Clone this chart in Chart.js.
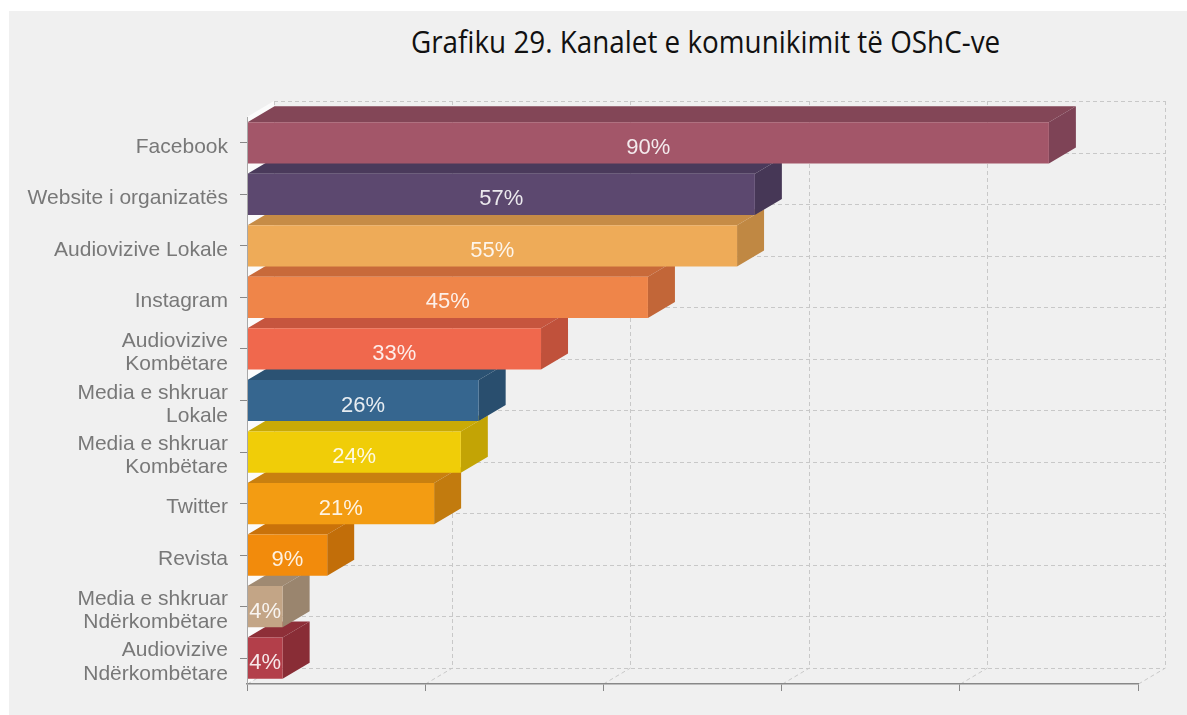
<!DOCTYPE html>
<html><head><meta charset="utf-8">
<script src="https://cdn.jsdelivr.net/npm/chart.js@4/dist/chart.umd.min.js"></script>
<style>
html,body{margin:0;padding:0;background:#fff;width:1187px;height:715px;overflow:hidden;}
#bg{position:absolute;left:9px;top:11px;width:1178px;height:704px;background:#f0f0f0;}
#title{position:absolute;top:22px;left:411px;white-space:nowrap;font-family:'Open Sans',sans-serif;font-size:31px;line-height:38px;color:#111;transform-origin:0 0;}
#wrap{position:absolute;left:0;top:0;width:1187px;height:715px;}
</style></head><body>
<div id="bg"></div>
<div id="title">Grafiku 29. Kanalet e komunikimit të OShC-ve</div>
<div id="wrap"><canvas id="c" width="1187" height="715"></canvas></div>
<script>
const categories = [
  'Facebook',
  'Website i organizatës',
  'Audiovizive Lokale',
  'Instagram',
  ['Audiovizive', 'Kombëtare'],
  ['Media e shkruar', 'Lokale'],
  ['Media e shkruar', 'Kombëtare'],
  'Twitter',
  'Revista',
  ['Media e shkruar', 'Ndërkombëtare'],
  ['Audiovizive', 'Ndërkombëtare']
];
const values = [90, 57, 55, 45, 33, 26, 24, 21, 9, 4, 4];
const valueLabels = ['90%', '57%', '55%', '45%', '33%', '26%', '24%', '21%', '9%', '4%', '4%'];
const xTickMin = 0, xTickMax = 100, xTickStep = 20;

const frontColors = ['#a35669','#5c486f','#eeab58','#ef8549','#f0684d','#36668f','#f0cd08','#f39c12','#f28b0c','#c3a586','#b33f4a'];
const topColors   = ['#834657','#4a3a5b','#c68c46','#c86a3a','#c6553e','#2b5273','#c9aa06','#c9800f','#c9720a','#a08a72','#8e2f38'];
const sideColors  = ['#7e4356','#463756','#c08843','#c26638','#c0513b','#294e6e','#c3a405','#c27b0e','#c26e09','#9a856e','#892d36'];

// title width fit
(function(){
  const el = document.getElementById('title');
  const w = el.offsetWidth;
  el.style.transform = 'scaleX(' + (589 / w) + ')';
})();

const DX = 27, DY = 16;

const threeD = {
  id: 'threeD',
  beforeDatasetsDraw(chart) {
    const ctx = chart.ctx, xs = chart.scales.x, ys = chart.scales.y;
    const a = chart.chartArea;
    const n = categories.length;
    ctx.save();
    // left wall
    ctx.fillStyle = '#fbfbfb';
    ctx.beginPath();
    ctx.moveTo(a.left, a.top); ctx.lineTo(a.left + DX, a.top - DY);
    ctx.lineTo(a.left + DX, a.bottom - DY); ctx.lineTo(a.left, a.bottom);
    ctx.closePath(); ctx.fill();
    // back wall grid
    ctx.strokeStyle = '#c8c8c8'; ctx.lineWidth = 1; ctx.setLineDash([4, 3]);
    const tickVals = [];
    for (let v = xTickMin; v <= xTickMax; v += xTickStep) tickVals.push(v);
    tickVals.forEach(v => {
      const px = Math.round(xs.getPixelForValue(v)) + 0.5;
      ctx.beginPath();
      ctx.moveTo(px + DX, a.top - DY); ctx.lineTo(px + DX, a.bottom - DY);
      ctx.stroke();
      ctx.beginPath();
      ctx.moveTo(px, a.bottom); ctx.lineTo(px + DX, a.bottom - DY);
      ctx.stroke();
    });
    for (let i = 0; i <= n; i++) {
      const py = Math.round(ys.getPixelForValue(i - 0.5)) + 0.5;
      ctx.beginPath();
      ctx.moveTo(a.left + DX, py - DY); ctx.lineTo(a.right + DX, py - DY);
      ctx.stroke();
    }
    ctx.setLineDash([]);
    // top + side faces, drawn from bottom bar to top bar
    const meta = chart.getDatasetMeta(0);
    for (let i = n - 1; i >= 0; i--) {
      const b = meta.data[i];
      const p = b.getProps(['x', 'y', 'base', 'height'], true);
      const left = p.base, right = p.x, top = p.y - p.height / 2, bottom = p.y + p.height / 2;
      ctx.fillStyle = topColors[i];
      ctx.beginPath();
      ctx.moveTo(left, top); ctx.lineTo(left + DX, top - DY);
      ctx.lineTo(right + DX, top - DY); ctx.lineTo(right, top);
      ctx.closePath(); ctx.fill();
      ctx.fillStyle = sideColors[i];
      ctx.beginPath();
      ctx.moveTo(right, top); ctx.lineTo(right + DX, top - DY);
      ctx.lineTo(right + DX, bottom - DY); ctx.lineTo(right, bottom);
      ctx.closePath(); ctx.fill();
    }
    ctx.restore();
  },
  afterDatasetsDraw(chart) {
    const ctx = chart.ctx;
    const meta = chart.getDatasetMeta(0);
    ctx.save();
    ctx.font = '22px "Liberation Sans", Arial, sans-serif';
    ctx.fillStyle = 'rgba(255,255,255,0.88)';
    ctx.textAlign = 'center';
    ctx.textBaseline = 'middle';
    meta.data.forEach((b, i) => {
      const p = b.getProps(['x', 'y', 'base'], true);
      ctx.fillText(valueLabels[i], (p.base + p.x) / 2, p.y + 5);
    });
    ctx.restore();
  }
};

new Chart(document.getElementById('c'), {
  type: 'bar',
  data: {
    labels: categories,
    datasets: [{
      data: values,
      backgroundColor: frontColors,
      borderWidth: 0,
      barPercentage: 0.8,
      categoryPercentage: 1.0
    }]
  },
  options: {
    indexAxis: 'y',
    responsive: false,
    devicePixelRatio: 1,
    animation: false,
    layout: { padding: { top: 117, right: 49, bottom: 0, left: 0 } },
    plugins: { legend: { display: false }, tooltip: { enabled: false }, title: { display: false } },
    scales: {
      x: {
        min: xTickMin, max: xTickMax,
        ticks: { stepSize: xTickStep, display: false },
        grid: { drawOnChartArea: false, drawTicks: true, tickLength: 7, color: '#888' },
        border: { display: true, color: '#888', width: 1.5, z: 1 },
        afterFit(s) { s.height = 31; }
      },
      y: {
        offset: true,
        grid: { drawOnChartArea: false, drawTicks: true, tickLength: 7, offset: false, color: '#888' },
        border: { display: true, color: '#a8a8a8', width: 1, z: 1 },
        ticks: { color: '#787878', padding: 12, autoSkip: false, labelOffset: 4,
                 font: { family: '"Liberation Sans", Arial, sans-serif', size: 21, lineHeight: 1.1 } },
        afterFit(s) { s.width = 247; }
      }
    }
  },
  plugins: [threeD]
});
</script>
</body></html>
